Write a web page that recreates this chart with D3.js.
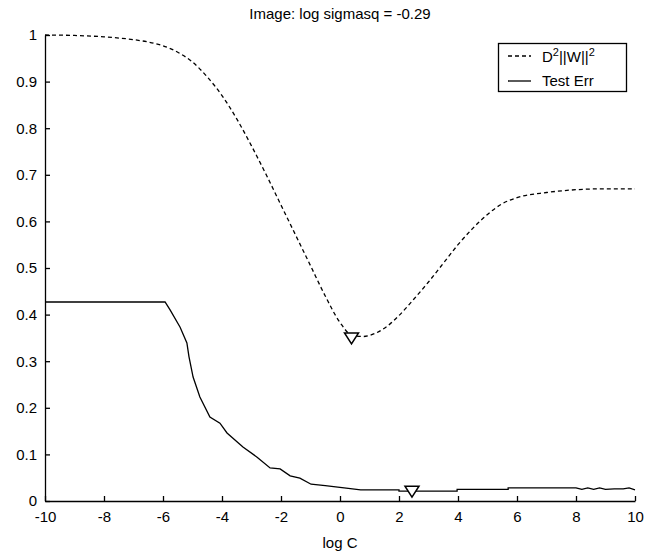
<!DOCTYPE html>
<html><head><meta charset="utf-8">
<script src="https://cdn.jsdelivr.net/npm/d3@7"></script>
<style>body{margin:0;background:#fff}svg{display:block}text{font-family:Arial,"Liberation Sans",sans-serif;fill:#000}</style>
</head><body>
<script>
const titleText = "Image: log sigmasq = -0.29";
const xLabel = "log C";
const xTicks = [-10,-8,-6,-4,-2,0,2,4,6,8,10];
const xTickLabels = ["-10","-8","-6","-4","-2","0","2","4","6","8","10"];
const yTicks = [0,0.1,0.2,0.3,0.4,0.5,0.6,0.7,0.8,0.9,1];
const yTickLabels = ["0","0.1","0.2","0.3","0.4","0.5","0.6","0.7","0.8","0.9","1"];

const dashX = [-10,-9,-8,-7,-6.5,-6,-5.5,-5,-4.5,-4,-3.5,-3,-2.5,-2,-1.5,-1,-0.5,0,0.4,0.8,1.2,1.6,2,2.5,3,3.5,4,4.5,5,5.5,6,7,8,9,10];
const dashY = [1.0,0.999,0.996,0.99,0.985,0.977,0.963,0.942,0.91,0.87,0.82,0.762,0.70,0.635,0.57,0.505,0.44,0.383,0.356,0.353,0.36,0.375,0.398,0.433,0.47,0.51,0.55,0.585,0.615,0.638,0.651,0.662,0.668,0.67,0.67];

const errX = [-10,-5.93,-5.76,-5.42,-5.19,-5.12,-4.98,-4.75,-4.41,-4.07,-3.83,-3.29,-2.81,-2.37,-2.03,-1.69,-1.36,-0.98,-0.5,0.14,0.7,1.0,2.0,2.0,3.97,3.97,5.7,5.7,8.0,8.2,8.4,8.6,8.8,9.0,9.3,9.6,9.8,10];
const errY = [0.427,0.427,0.41,0.373,0.339,0.31,0.266,0.223,0.18,0.167,0.146,0.116,0.094,0.071,0.069,0.054,0.049,0.036,0.033,0.028,0.024,0.024,0.024,0.021,0.021,0.025,0.025,0.028,0.028,0.025,0.028,0.025,0.028,0.025,0.026,0.026,0.028,0.024];

const markerX = [0.39, 2.44];
const markerY = [0.35, 0.021];

const legendLabels = ["D2||W||2", "Test Err"];

const W = 645, H = 551;
const svg = d3.select("body").append("svg").attr("width", W).attr("height", H);
const x = d3.scaleLinear().domain([-10, 10]).range([45, 635]);
const y = d3.scaleLinear().domain([0, 1]).range([501, 35]);

const fs = 15;
// axes
const xAxis = d3.axisBottom(x).tickValues(xTicks).tickSizeInner(-5).tickSizeOuter(0).tickPadding(10).tickFormat((d,i)=>xTickLabels[i]);
const gx = svg.append("g").attr("transform", `translate(0,${y(0)})`).call(xAxis);
const yAxis = d3.axisLeft(y).tickValues(yTicks).tickSizeInner(-5).tickSizeOuter(0).tickPadding(8).tickFormat((d,i)=>yTickLabels[i]);
const gy = svg.append("g").attr("transform", `translate(${x(-10)},0)`).call(yAxis);
[gx, gy].forEach(g => {
  g.select(".domain").attr("stroke", "#000").attr("stroke-width", 1.3);
  g.selectAll(".tick line").attr("stroke", "#000").attr("stroke-width", 1.3);
  g.selectAll(".tick text").attr("font-size", fs).attr("font-family", "Arial, 'Liberation Sans', sans-serif").attr("fill", "#000");
});
gx.selectAll(".tick text").attr("dy", "0.71em");

// lines
svg.append("path").datum(dashX.map((v,i)=>[v, dashY[i]]))
  .attr("d", d3.line().x(d => x(d[0])).y(d => y(d[1])).curve(d3.curveMonotoneX))
  .attr("fill", "none").attr("stroke", "#000").attr("stroke-width", 1.3).attr("stroke-dasharray", "4,3");
svg.append("path").datum(errX.map((v,i)=>[v, errY[i]]))
  .attr("d", d3.line().x(d => x(d[0])).y(d => y(d[1])))
  .attr("fill", "none").attr("stroke", "#000").attr("stroke-width", 1.3);

// markers (downward triangles)
markerX.forEach((mx, i) => {
  const cx = x(mx), cy = y(markerY[i]);
  svg.append("path").attr("d", `M${cx-7},${cy-5}L${cx+7},${cy-5}L${cx},${cy+6}Z`)
    .attr("fill", "#fff").attr("stroke", "#000").attr("stroke-width", 1.5);
});

// title and x label
svg.append("text").attr("x", 340).attr("y", 19).attr("text-anchor", "middle").attr("font-size", fs).text(titleText);
svg.append("text").attr("x", 340).attr("y", 548).attr("text-anchor", "middle").attr("font-size", fs).text(xLabel);

// legend
const lg = svg.append("g");
lg.append("rect").attr("x", 498.5).attr("y", 43.5).attr("width", 128).attr("height", 48).attr("fill", "#fff").attr("stroke", "#000").attr("stroke-width", 1.3);
lg.append("line").attr("x1", 508).attr("x2", 531).attr("y1", 56).attr("y2", 56).attr("stroke", "#000").attr("stroke-width", 1.3).attr("stroke-dasharray", "4,3");
lg.append("line").attr("x1", 508).attr("x2", 531).attr("y1", 81).attr("y2", 81).attr("stroke", "#000").attr("stroke-width", 1.3);
const t1 = lg.append("text").attr("x", 542).attr("y", 62).attr("font-size", fs);
t1.append("tspan").text("D");
t1.append("tspan").attr("font-size", 11).attr("dy", -6).text("2");
t1.append("tspan").attr("dy", 6).text("||W||");
t1.append("tspan").attr("font-size", 11).attr("dy", -6).text("2");
lg.append("text").attr("x", 542).attr("y", 86).attr("font-size", fs).text(legendLabels[1]);
</script>
</body></html>
